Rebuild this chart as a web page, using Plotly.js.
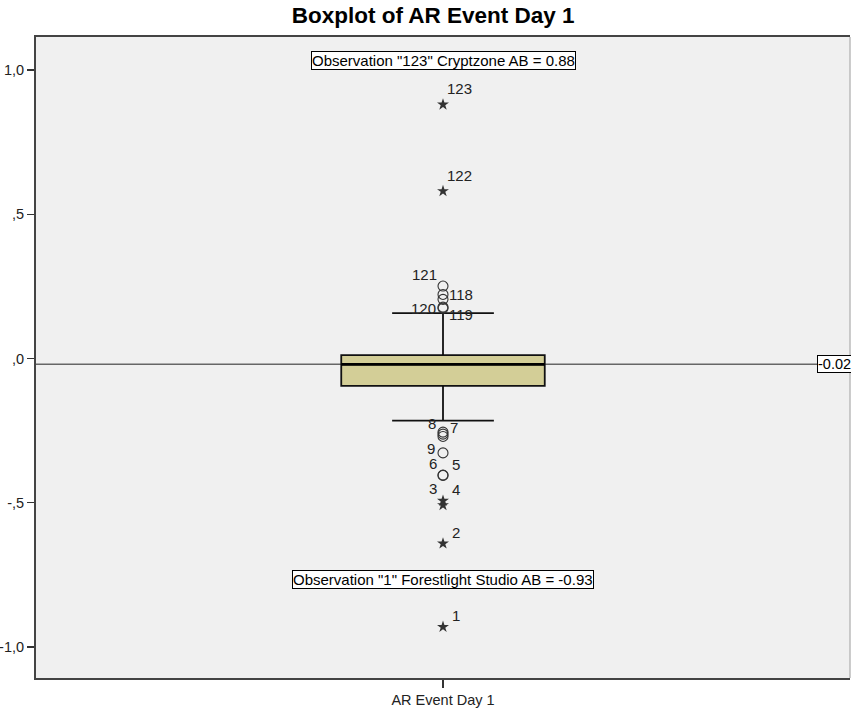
<!DOCTYPE html>
<html>
<head>
<meta charset="utf-8">
<script src="https://cdn.plot.ly/plotly-3.0.1.min.js"></script>
<style>html,body{margin:0;padding:0;background:#fff;}#chart{width:851px;height:709px;}</style>
</head>
<body>
<div id="chart"></div>
<script>
// ---- data ----
var category = "AR Event Day 1";
var q1 = -0.095, median = -0.02, q3 = 0.012;
var lowerWhisker = -0.215, upperWhisker = 0.157;
var refValue = -0.02;

// mild outliers (circles)
var circleValues = [0.251, 0.222, 0.205, 0.178, 0.174, -0.255, -0.262, -0.27, -0.327, -0.404, -0.405];
var circleLabels = ["121", "118", "", "120", "119", "8", "7", "", "9", "6", "5"];
// extreme outliers (stars)
var starValues = [0.88, 0.58, -0.493, -0.508, -0.641, -0.93];
var starLabels = ["123", "122", "3", "4", "2", "1"];

var tickVals = [-1.0, -0.5, 0.0, 0.5, 1.0];
var tickText = ["-1,0", "-,5", ",0", ",5", "1,0"];

var calloutTop = 'Observation "123" Cryptzone AB = 0.88';
var calloutBottom = 'Observation "1" Forestlight Studio AB = -0.93';

// ---- label placement (style) ----
var circleSides = ["tl", "r", "", "l", "br", "tl8", "tr7", "", "l9", "tl", "trw", ""];
var starSides = ["tr", "tr", "tl", "trh", "trw", "trw"];
var sideStyle = {
  "tl":  {xa: "right", dx: -4, dy: 12},
  "tl8": {xa: "right", dx: -5, dy: 9},
  "tr":  {xa: "left", dx: 2, dy: 16},
  "tr7": {xa: "left", dx: 5, dy: 7},
  "trw": {xa: "left", dx: 7, dy: 11},
  "trh": {xa: "left", dx: 7, dy: 16},
  "r":   {xa: "left", dx: 4, dy: 0},
  "br":  {xa: "left", dx: 4, dy: -6},
  "l":   {xa: "right", dx: -5, dy: -1},
  "l9":  {xa: "right", dx: -6, dy: 4}
};

var boxWidth = 1.0;
var xc = 0;
var font = "Liberation Sans, Arial, sans-serif";

var traces = [
  {
    type: "box", x: [xc], q1: [q1], median: [median], q3: [q3],
    lowerfence: [lowerWhisker], upperfence: [upperWhisker],
    boxpoints: false, width: boxWidth, whiskerwidth: 0.5,
    fillcolor: "#D3CE97", line: {color: "#111", width: 1.8},
    hoverinfo: "skip", showlegend: false
  },
  {
    type: "scatter", mode: "lines",
    x: [xc - boxWidth / 2, xc + boxWidth / 2], y: [median, median],
    line: {color: "#000", width: 2.8}, hoverinfo: "skip", showlegend: false
  },
  {
    type: "scatter", mode: "markers",
    x: circleValues.map(function(){return xc;}), y: circleValues,
    marker: {symbol: "circle-open", size: 10, color: "#333", line: {width: 1.1}},
    hoverinfo: "skip", showlegend: false
  },
  {
    type: "scatter", mode: "markers",
    x: starValues.map(function(){return xc;}), y: starValues,
    marker: {symbol: "star", size: 9, color: "#333", line: {width: 0}},
    hoverinfo: "skip", showlegend: false
  }
];

var annotations = [];
function addLabels(vals, labs, sides) {
  for (var i = 0; i < vals.length; i++) {
    if (!labs[i]) continue;
    var s = sideStyle[sides[i]];
    annotations.push({
      x: xc, y: vals[i], xref: "x", yref: "y", text: labs[i], showarrow: false,
      xanchor: s.xa, yanchor: "middle", xshift: s.dx, yshift: s.dy,
      font: {family: font, size: 15, color: "#222"}
    });
  }
}
addLabels(circleValues, circleLabels, circleSides);
addLabels(starValues, starLabels, starSides);

annotations.push({
  xref: "x", yref: "paper", x: xc, y: 0.963, text: calloutTop, showarrow: false,
  xanchor: "center", yanchor: "middle", bgcolor: "#fff", bordercolor: "#000",
  borderwidth: 1, borderpad: 0, font: {family: font, size: 15, color: "#000"}
});
annotations.push({
  xref: "x", yref: "paper", x: xc, y: 0.1537, text: calloutBottom, showarrow: false,
  xanchor: "center", yanchor: "middle", bgcolor: "#fff", bordercolor: "#000",
  borderwidth: 1, borderpad: 0, font: {family: font, size: 15, color: "#000"}
});
annotations.push({
  xref: "paper", yref: "y", x: 1, y: refValue, text: String(refValue.toFixed(2)),
  showarrow: false, xanchor: "right", yanchor: "middle", xshift: 2,
  bgcolor: "#fff", bordercolor: "#000", borderwidth: 1, borderpad: 0,
  font: {family: font, size: 14.5, color: "#000"}
});

var layout = {
  width: 851, height: 709,
  margin: {l: 36, r: 1, t: 37, b: 31},
  paper_bgcolor: "#fff", plot_bgcolor: "#F0F0F0",
  hovermode: false,
  title: {text: "<b>Boxplot of " + category + "</b>", x: 0.509, xanchor: "center",
          y: 0.979, yanchor: "middle", yref: "container",
          font: {family: font, size: 22.5, color: "#000"}},
  xaxis: {
    range: [-2, 2], tickvals: [xc], ticktext: [category], ticks: "outside",
    ticklen: 8, tickwidth: 1.5, tickcolor: "#333", showgrid: false, zeroline: false,
    showline: true, linecolor: "#444", linewidth: 2, mirror: true,
    tickfont: {family: font, size: 14.5, color: "#222"}, fixedrange: true
  },
  yaxis: {
    range: [-1.107, 1.114], tickvals: tickVals, ticktext: tickText, ticks: "outside",
    ticklen: 7, tickwidth: 1.3, tickcolor: "#333", showgrid: false, zeroline: false,
    showline: true, linecolor: "#444", linewidth: 2,
    tickfont: {family: font, size: 14.5, color: "#222"}, fixedrange: true
  },
  shapes: [
    {type: "line", xref: "paper", yref: "y", x0: 0, x1: 1, y0: refValue, y1: refValue,
     line: {color: "#666", width: 1.5}, layer: "below"},
    {type: "line", xref: "paper", yref: "paper", x0: 1, x1: 1, y0: 0, y1: 1,
     line: {color: "#bbb", width: 1.5}}
  ],
  annotations: annotations
};

Plotly.newPlot("chart", traces, layout, {staticPlot: true, displayModeBar: false});
</script>
</body>
</html>
